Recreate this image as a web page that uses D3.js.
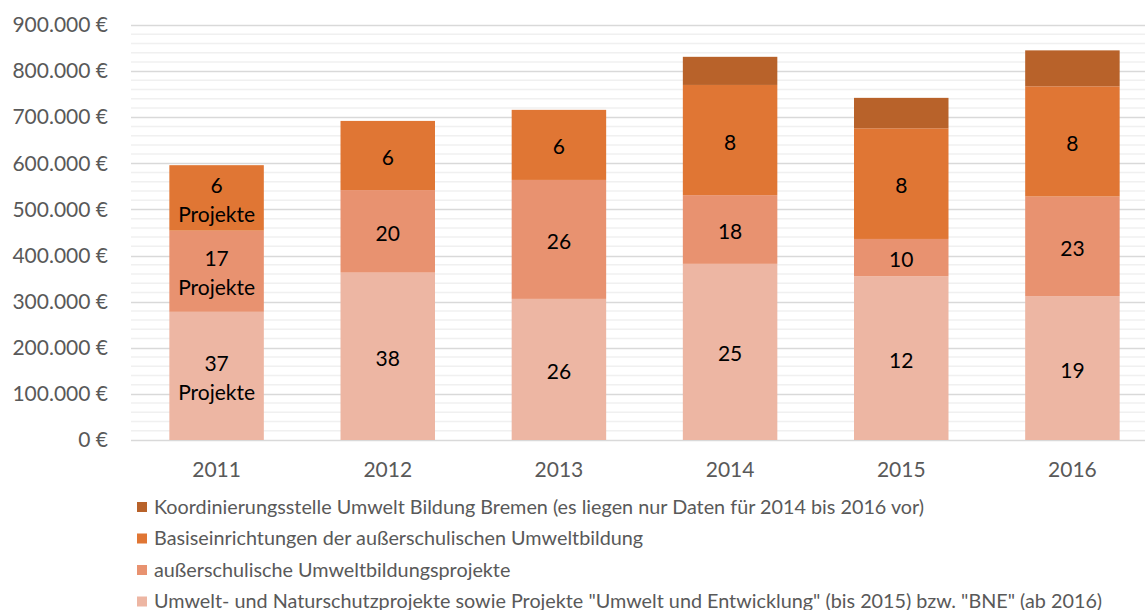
<!DOCTYPE html>
<html><head><meta charset="utf-8">
<script src="https://cdn.jsdelivr.net/npm/d3@7"></script>
<style>body{margin:0;background:#fff}svg{display:block}</style>
</head><body>
<svg id="c" width="1145" height="610"></svg>
<script>
const years = ["2011","2012","2013","2014","2015","2016"];
const seriesNames = [
  "Umwelt- und Naturschutzprojekte sowie Projekte \"Umwelt und Entwicklung\" (bis 2015) bzw. \"BNE\" (ab 2016)",
  "außerschulische Umweltbildungsprojekte",
  "Basiseinrichtungen der außerschulischen Umweltbildung",
  "Koordinierungsstelle Umwelt Bildung Bremen (es liegen nur Daten für 2014 bis 2016 vor)"
];
const naturschutz   = [278000, 363000, 306000, 382000, 355000, 312000];
const ausserschul   = [176000, 179000, 258000, 149000,  81000, 216000];
const basis         = [142000, 150000, 152000, 239000, 240000, 239000];
const koordinierung = [     0,      0,      0,  61000,  66000,  78000];
const naturschutzLabels = ["37\nProjekte","38","26","25","12","19"];
const ausserschulLabels = ["17\nProjekte","20","26","18","10","23"];
const basisLabels       = ["6\nProjekte","6","6","8","8","8"];
const koordLabels       = ["","","","","",""];
const yTicks = [0,100000,200000,300000,400000,500000,600000,700000,800000,900000];
const colors = ["#EDB6A3","#E89270","#E07634","#B8622A"];
const FONT = "Lato, 'Open Sans', sans-serif";

const svg = d3.select("#c");
const m = {left:131, right:1158, top:25, bottom:440};
const x = d3.scaleBand().domain(years).range([m.left, m.right]).paddingInner(0.448).paddingOuter(0.224);
const y = d3.scaleLinear().domain([0,900000]).range([m.bottom, m.top]);

// minor gridlines
const minor = d3.range(0, 900001, 20000).filter(v => v % 100000 !== 0);
svg.append("g").selectAll("line").data(minor).join("line")
  .attr("x1", m.left).attr("x2", 1145).attr("y1", d=>y(d)).attr("y2", d=>y(d))
  .attr("stroke", "#f0f0f0").attr("stroke-width", 1.5);
// major gridlines
svg.append("g").selectAll("line").data(yTicks).join("line")
  .attr("x1", m.left).attr("x2", 1145).attr("y1", d=>Math.round(y(d))+0.5).attr("y2", d=>Math.round(y(d))+0.5)
  .attr("stroke", "#d9d9d9").attr("stroke-width", 1.3);

// y axis labels
const fmt = v => d3.format(",")(v).replace(/,/g, ".") + " €";
const yAxis = svg.append("g").attr("transform", `translate(${m.left},0)`)
  .call(d3.axisLeft(y).tickValues(yTicks).tickFormat(fmt).tickSize(0).tickPadding(23));
yAxis.select(".domain").remove();
yAxis.selectAll("text").attr("font-family",FONT).attr("font-size", 21).attr("fill","#595959");

// x axis labels
const xAxis = svg.append("g").attr("transform", `translate(0,${m.bottom})`)
  .call(d3.axisBottom(x).tickSize(0).tickPadding(22));
xAxis.select(".domain").remove();
xAxis.selectAll("text").attr("font-family",FONT).attr("font-size", 21).attr("fill","#595959");

// stacks
const rows = years.map((yr,i)=>({year:yr, s0:naturschutz[i], s1:ausserschul[i], s2:basis[i], s3:koordinierung[i]}));
const stack = d3.stack().keys(["s0","s1","s2","s3"])(rows);
const labels = [naturschutzLabels, ausserschulLabels, basisLabels, koordLabels];

stack.forEach((layer, li) => {
  const g = svg.append("g");
  g.selectAll("rect").data(layer).join("rect")
    .attr("x", (d,i)=>x(years[i])).attr("width", x.bandwidth())
    .attr("y", d=>y(d[1])).attr("height", d=>Math.max(0, y(d[0])-y(d[1])))
    .attr("fill", colors[li]);
  layer.forEach((d,i)=>{
    const lab = labels[li][i];
    if (!lab) return;
    const lines = lab.split("\n");
    const cy = (y(d[0])+y(d[1]))/2;
    const lh = 29;
    const t = g.append("text").attr("text-anchor","middle")
      .attr("font-family",FONT).attr("font-size", 21).attr("fill","#000");
    lines.forEach((ln,k)=>{
      t.append("tspan").attr("x", x(years[i]) + x.bandwidth()/2)
        .attr("y", cy + (k - (lines.length-1)/2)*lh + 9.5).text(ln);
    });
  });
});

// legend
const legOrder = [3,2,1,0];
const lg = svg.append("g");
legOrder.forEach((si,k)=>{
  const cy = 507 + k*31.5;
  lg.append("rect").attr("x",137).attr("y",cy-5).attr("width",10).attr("height",10).attr("fill",colors[si]);
  lg.append("text").attr("x",154).attr("y",cy+6.5).text(seriesNames[si])
    .attr("font-family",FONT).attr("font-size",19.8).attr("fill","#595959");
});
</script>
</body></html>
